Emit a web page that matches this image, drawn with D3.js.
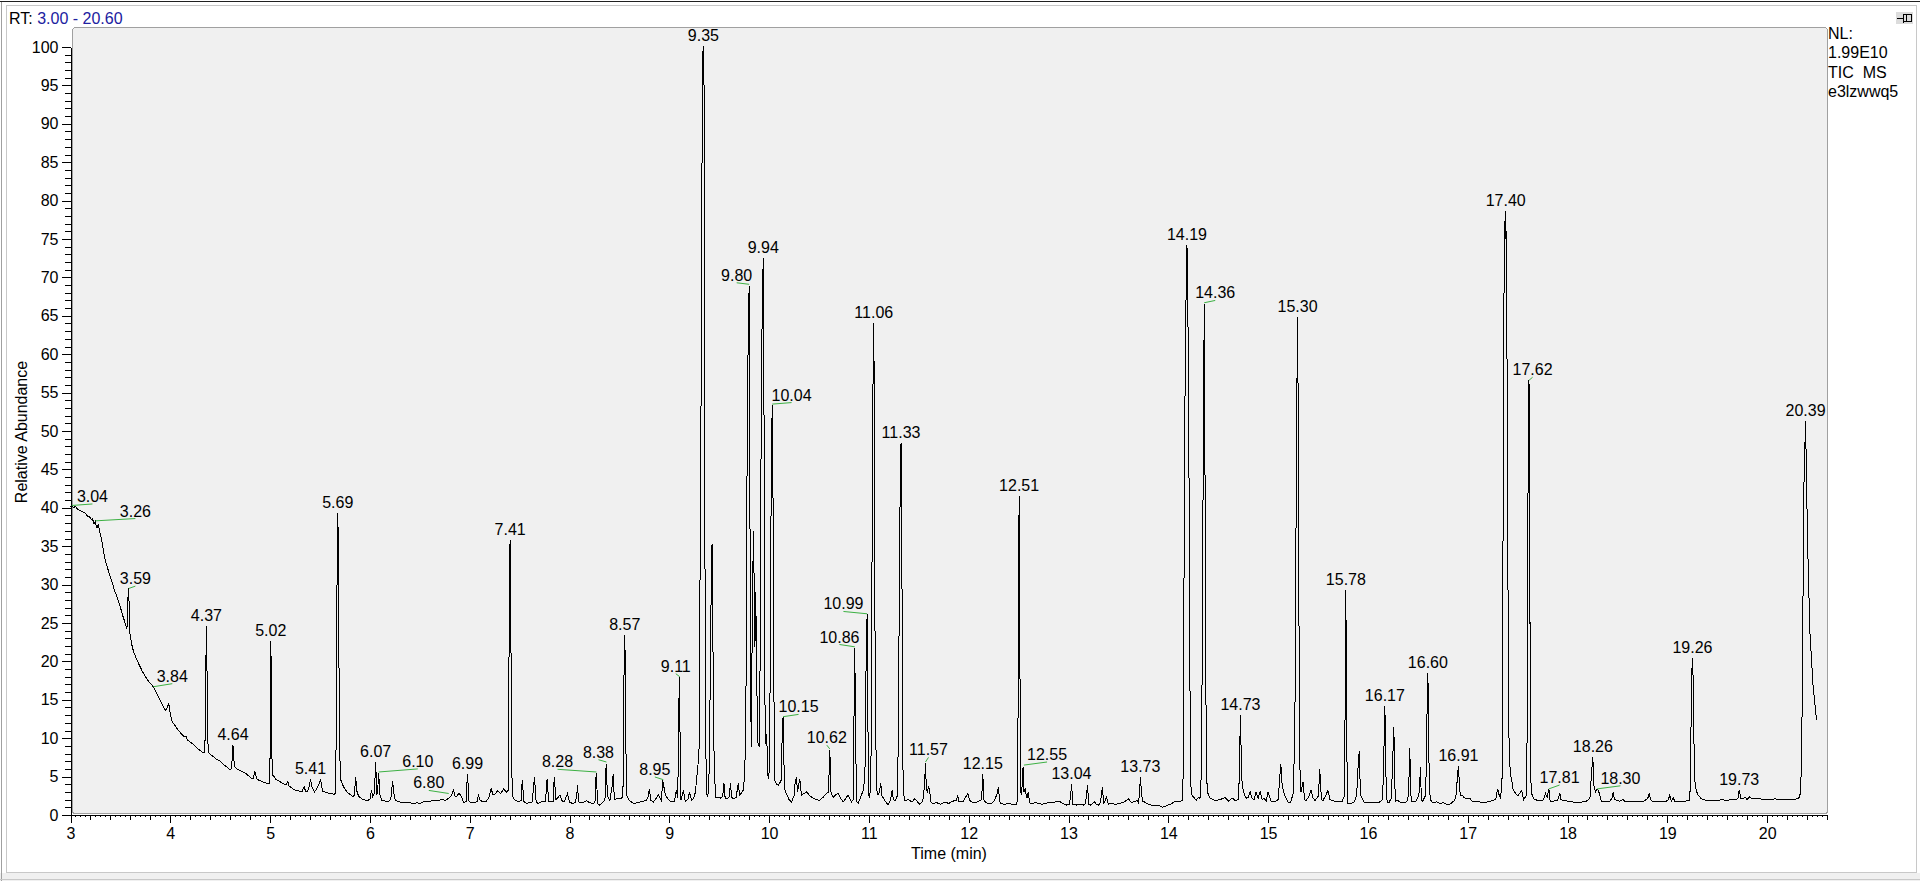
<!DOCTYPE html>
<html>
<head>
<meta charset="utf-8">
<title>RT: 3.00 - 20.60  TIC MS e3lzwwq5</title>
<script src="https://cdn.jsdelivr.net/npm/d3@7"></script>
<style>
    body { margin: 0; background: #ffffff; overflow: hidden; }
    svg text { font-family: "Liberation Sans", Arial, sans-serif; font-size: 16px; fill: #000000; }
</style>
</head>
<body>
<div id="chart"></div>
<script>

// Chart data
// --------------------------------------------------------------------------------------------

// Total ion current trace, [retention time (min), relative abundance (%)]
const trace3to7 = [
    [3.00,40.1],[3.013,40.3],[3.03,40.0],[3.05,40.2],[3.07,39.8],[3.10,39.6],[3.13,39.4],[3.15,39.3],
    [3.17,38.9],[3.19,38.8],[3.21,38.5],[3.22,38.6],[3.235,37.9],[3.25,38.3],[3.26,37.4],[3.27,37.5],
    [3.28,37.9],[3.29,36.9],[3.30,36.6],[3.32,35.2],[3.34,33.6],[3.365,32.4],[3.39,31.4],[3.415,30.4],
    [3.44,29.3],[3.465,28.4],[3.49,27.5],[3.52,26.1],[3.545,25.1],[3.565,24.2],[3.572,25.5],[3.578,29.5],
    [3.585,29.0],[3.59,24.5],[3.595,23.7],[3.62,21.8],[3.64,21.0],[3.665,20.2],[3.69,19.5],[3.72,18.7],
    [3.75,18.0],[3.79,17.3],[3.83,16.7],[3.86,15.9],[3.89,15.2],[3.92,14.4],[3.95,13.6],[3.965,13.9],
    [3.985,14.5],[4.00,13.2],[4.02,12.1],[4.05,11.6],[4.08,11.0],[4.11,10.6],[4.14,10.2],[4.16,10.2],
    [4.17,9.8],[4.20,9.5],[4.22,9.3],[4.26,8.8],[4.29,8.5],[4.32,8.2],[4.345,8.1],[4.352,12],
    [4.357,20],[4.362,24.6],[4.367,20],[4.372,12],[4.38,8.3],[4.39,8.0],[4.42,7.7],[4.46,7.3],
    [4.49,7.1],[4.53,6.6],[4.57,6.2],[4.60,5.9],[4.615,6.1],[4.622,8.0],[4.628,9.1],[4.634,8.0],
    [4.642,6.3],[4.67,6.0],[4.71,5.7],[4.76,5.4],[4.80,4.9],[4.83,4.7],[4.848,5.7],[4.865,4.7],
    [4.89,4.5],[4.93,4.3],[4.97,4.1],[4.995,4.1],[5.000,8],[5.004,18],[5.007,22.6],[5.012,18],
    [5.017,8],[5.025,5.2],[5.04,5.0],[5.06,4.6],[5.09,4.4],[5.13,4.1],[5.16,3.9],[5.178,4.4],
    [5.19,3.8],[5.23,3.4],[5.26,3.2],[5.30,3.1],[5.32,3.0],[5.34,3.7],[5.355,3.1],[5.375,3.0],
    [5.392,3.8],[5.405,4.7],[5.42,3.6],[5.445,3.0],[5.465,3.4],[5.49,4.0],[5.505,4.7],[5.525,3.1],
    [5.545,3.0],[5.57,2.9],[5.60,2.8],[5.64,2.7],[5.655,2.8],[5.662,10],[5.668,25],[5.674,37],
    [5.678,39.3],[5.684,35],[5.69,20],[5.697,8],[5.71,4.5],[5.725,4.0],[5.74,3.6],[5.77,3.0],
    [5.79,2.8],[5.83,2.4],[5.845,2.6],[5.852,4.0],[5.858,4.9],[5.864,4.0],[5.872,2.9],[5.89,2.4],
    [5.93,2.0],[5.97,1.9],[6.00,2.0],[6.015,3.2],[6.028,2.4],[6.045,2.8],[6.052,5.0],[6.058,6.9],
    [6.064,4.5],[6.070,2.8],[6.078,2.9],[6.083,4.5],[6.088,5.5],[6.094,4.0],[6.10,2.6],[6.12,1.9],
    [6.16,1.8],[6.19,1.8],[6.21,2.1],[6.22,3.5],[6.228,4.4],[6.236,3.4],[6.245,2.3],[6.26,1.9],
    [6.30,1.7],[6.35,1.6],[6.40,1.6],[6.44,1.5],[6.47,1.6],[6.50,1.5],[6.53,1.7],[6.56,1.7],
    [6.60,1.8],[6.64,1.9],[6.68,1.9],[6.72,2.0],[6.76,1.9],[6.79,2.2],[6.82,2.6],[6.838,3.4],
    [6.85,2.5],[6.87,2.4],[6.89,2.8],[6.91,2.6],[6.94,1.6],[6.965,1.8],[6.972,4.0],[6.978,5.4],
    [6.984,4.0],[6.99,1.9],[7.01,1.6],[7.05,1.6]
]

const trace7to11 = [
    [7.075,1.8],[7.088,2.7],[7.10,2.0],[7.13,1.7],[7.16,1.7],[7.19,2.2],[7.215,3.4],[7.235,2.6],
    [7.26,2.8],[7.28,3.2],[7.31,2.8],[7.34,3.4],[7.37,3.0],[7.385,3.2],[7.392,15],[7.398,32],
    [7.405,35.8],[7.41,32],[7.416,15],[7.425,3.5],[7.435,2.2],[7.46,1.9],[7.49,1.7],[7.515,1.9],
    [7.522,3.5],[7.527,4.6],[7.533,3.5],[7.54,1.8],[7.57,1.5],[7.60,1.6],[7.625,1.7],[7.642,3.8],
    [7.648,4.9],[7.655,3.8],[7.665,1.8],[7.68,1.5],[7.72,1.7],[7.76,1.8],[7.77,3.8],[7.775,4.7],
    [7.782,3.6],[7.79,1.8],[7.80,1.7],[7.835,1.8],[7.842,3.8],[7.848,4.9],[7.855,3.6],[7.862,2.0],
    [7.88,2.2],[7.905,2.6],[7.93,1.7],[7.95,1.8],[7.98,2.8],[8.00,1.7],[8.03,1.5],[8.06,1.6],
    [8.075,3.0],[8.08,3.9],[8.087,2.6],[8.095,1.7],[8.12,1.6],[8.15,1.7],[8.17,1.9],[8.20,1.6],
    [8.23,1.5],[8.255,1.6],[8.262,4.0],[8.268,5.5],[8.274,4.0],[8.28,1.5],[8.30,1.3],[8.33,1.6],
    [8.355,1.9],[8.362,5.0],[8.368,6.7],[8.374,4.5],[8.38,2.5],[8.405,1.9],[8.43,4.0],[8.437,5.3],
    [8.443,3.8],[8.45,2.0],[8.49,2.2],[8.52,2.2],[8.535,2.4],[8.54,8],[8.546,18],[8.554,23.4],
    [8.56,18],[8.566,8],[8.575,2.5],[8.60,1.9],[8.64,1.5],[8.68,1.6],[8.71,1.7],[8.74,1.8],
    [8.77,1.9],[8.79,2.4],[8.80,3.4],[8.815,1.9],[8.84,1.7],[8.87,2.2],[8.89,2.6],[8.92,1.9],
    [8.935,4.5],[8.96,2.6],[8.98,2.2],[9.01,1.8],[9.05,1.7],[9.07,3.2],[9.085,2.2],[9.093,12],
    [9.101,18.0],[9.108,10],[9.117,1.9],[9.14,3.2],[9.16,1.8],[9.19,2.1],[9.20,3.0],[9.225,1.9],
    [9.245,2.2],[9.262,3.0],[9.272,4.5],[9.285,6.0],[9.299,8.9],[9.305,25.8],[9.315,43],[9.322,69],
    [9.333,99.5],[9.338,98.2],[9.342,100.1],[9.347,99.0],[9.352,69],[9.356,43],[9.360,17.5],[9.37,4.5],
    [9.379,2.3],[9.39,2.8],[9.40,6],[9.41,17.5],[9.42,30],[9.428,35.3],[9.433,30],[9.44,17.5],
    [9.45,6],[9.465,2.3],[9.48,2.3],[9.51,2.2],[9.535,2.4],[9.548,4.1],[9.56,2.1],[9.58,2.1],
    [9.60,2.4],[9.613,4.1],[9.625,2.3],[9.64,2.1],[9.67,2.3],[9.69,4.1],[9.705,2.6],[9.72,2.8],
    [9.739,3.2],[9.755,5],[9.765,11],[9.772,22],[9.778,43],[9.79,62],[9.80,68.9],[9.805,60],
    [9.807,43],[9.815,15],[9.823,8.9],[9.828,20],[9.835,31],[9.846,37.0],[9.852,25],[9.858,21.9],
    [9.866,29.0],[9.874,20],[9.885,9.5],[9.90,8.9],[9.91,20],[9.917,43],[9.93,65],[9.941,72.5],
    [9.946,65],[9.951,43],[9.958,15],[9.967,9.3],[9.975,10.5],[9.99,4.7],[10.005,6],[10.015,30],
    [10.022,45],[10.031,53.4],[10.038,45],[10.045,20],[10.057,4.5],[10.075,4.0],[10.095,3.9],[10.12,4.5],
    [10.128,9],[10.140,12.8],[10.148,7],[10.16,3.0],[10.173,2.8],[10.20,2.0],[10.224,1.7],[10.25,2.5],
    [10.262,4.4],[10.274,4.9],[10.285,3.0],[10.297,4.0],[10.307,4.7],[10.324,2.6],[10.35,2.8],[10.374,3.0],
    [10.41,2.5],[10.441,2.2],[10.475,2.0],[10.508,1.9],[10.54,2.3],[10.575,2.8],[10.595,3.0],[10.602,6],
    [10.608,8.5],[10.614,6],[10.62,3.0],[10.641,2.3],[10.665,2.6],[10.691,2.8],[10.715,2.2],[10.742,1.7],
    [10.77,2.2],[10.792,2.6],[10.825,1.7],[10.843,2.0],[10.85,12],[10.858,21.7],[10.866,12],[10.875,1.8],
    [10.892,1.5],[10.92,2.4],[10.942,3.2],[10.96,5],[10.972,20],[10.982,26.2],[10.99,12],[10.998,2.5],
    [11.009,2.3],[11.02,5],[11.03,30],[11.04,55],[11.049,64.1],[11.055,50],[11.062,20],[11.075,3.5],
    [11.092,2.6],[11.105,3.0],[11.119,4.1],[11.13,2.5],[11.159,1.9],[11.193,1.3],[11.215,1.9],[11.233,3.2],
    [11.245,2.0],[11.265,1.9],[11.285,2.5]
]

const trace11to16 = [
    [11.295,10],[11.305,30],[11.315,45],[11.322,48.5],[11.328,40],[11.335,20],[11.343,3],[11.36,1.9],
    [11.40,2.0],[11.43,1.7],[11.46,2.1],[11.51,1.4],[11.54,1.8],[11.558,4],[11.567,6.8],[11.575,3.5],
    [11.585,3.0],[11.597,3.6],[11.607,3.4],[11.62,1.7],[11.635,1.5],[11.68,1.6],[11.72,1.4],[11.76,1.7],
    [11.80,1.5],[11.84,1.8],[11.876,1.9],[11.89,2.6],[11.90,1.8],[11.94,1.7],[11.99,2.8],[12.01,1.9],
    [12.04,1.6],[12.09,1.7],[12.13,2.0],[12.136,4.0],[12.141,5.4],[12.146,4.0],[12.152,2.0],[12.17,1.6],
    [12.20,1.5],[12.23,1.5],[12.26,1.9],[12.29,3.0],[12.297,3.7],[12.305,2.6],[12.315,1.5],[12.36,1.4],
    [12.40,1.5],[12.44,1.4],[12.48,1.4],[12.49,2.0],[12.497,20],[12.505,41.6],[12.513,20],[12.52,3],
    [12.53,2.6],[12.54,5.0],[12.545,6.3],[12.553,3],[12.565,3.4],[12.583,2.2],[12.598,3.0],[12.61,1.6],
    [12.63,1.5],[12.67,1.6],[12.70,1.5],[12.73,1.4],[12.77,1.5],[12.80,1.6],[12.83,1.6],[12.87,1.7],
    [12.91,1.8],[12.94,1.5],[12.98,1.3],[13.01,1.4],[13.024,3.0],[13.03,4.0],[13.037,2.8],[13.045,1.4],
    [13.08,1.3],[13.12,1.4],[13.15,1.3],[13.17,1.5],[13.184,3.0],[13.19,3.9],[13.197,2.6],[13.205,1.4],
    [13.22,1.3],[13.24,1.5],[13.26,1.7],[13.28,1.4],[13.30,1.3],[13.32,1.6],[13.334,3.0],[13.34,3.7],
    [13.347,2.4],[13.355,1.5],[13.38,2.3],[13.40,1.4],[13.43,1.5],[13.47,1.4],[13.51,1.5],[13.54,1.6],
    [13.56,1.7],[13.60,2.1],[13.63,1.6],[13.65,1.7],[13.69,1.9],[13.70,1.6],[13.712,2.8],[13.72,4.9],
    [13.728,3.5],[13.74,1.8],[13.76,1.7],[13.80,1.4],[13.85,1.2],[13.90,1.3],[13.94,1.0],[13.98,1.2],
    [14.02,1.4],[14.06,1.7],[14.10,1.7],[14.14,1.9],[14.148,5],[14.155,25],[14.165,50],[14.172,63],
    [14.187,74.2],[14.198,63],[14.207,45],[14.215,20],[14.225,4],[14.235,2.6],[14.25,2.4],[14.28,1.9],
    [14.30,2.3],[14.315,2.2],[14.325,2.5],[14.335,10],[14.345,35],[14.352,50],[14.36,66.6],[14.366,50],
    [14.372,30],[14.38,8],[14.39,3.0],[14.42,2.2],[14.47,1.9],[14.52,2.0],[14.57,2.3],[14.60,1.8],
    [14.64,2.2],[14.67,1.9],[14.70,2.0],[14.712,5],[14.718,10],[14.723,13.0],[14.73,8],[14.738,4.5],
    [14.75,3.2],[14.765,2.6],[14.78,2.2],[14.80,2.3],[14.82,3.0],[14.84,2.2],[14.86,2.0],[14.88,3.0],
    [14.90,2.2],[14.92,3.0],[14.94,2.0],[14.96,2.2],[14.98,1.8],[15.00,3.0],[15.03,1.8],[15.07,1.7],
    [15.10,2.0],[15.115,4.5],[15.127,6.7],[15.14,4.0],[15.155,3.0],[15.17,2.5],[15.20,1.7],[15.225,1.6],
    [15.255,3],[15.27,15],[15.285,50],[15.295,64.9],[15.303,50],[15.312,15],[15.322,3.0],[15.33,3.0],
    [15.35,4.3],[15.365,2.0],[15.38,1.9],[15.405,2.3],[15.43,3.2],[15.45,2.2],[15.47,1.9],[15.505,2.5],
    [15.513,5],[15.518,6.0],[15.525,4],[15.535,2.0],[15.55,1.9],[15.575,2.5],[15.60,3.2],[15.62,2.0],
    [15.64,1.9],[15.69,1.7],[15.74,1.7],[15.765,2.5],[15.772,15],[15.779,29.3],[15.786,12],[15.795,2.0],
    [15.80,1.5],[15.83,1.5],[15.86,1.7],[15.88,2.2],[15.895,4],[15.905,7.5],[15.915,8.3],[15.922,4],
    [15.93,2.5],[15.96,1.7]
]

const trace16to21 = [
    [16.00,1.6],[16.04,1.7],[16.08,1.6],[16.12,1.7],[16.145,2.0],[16.155,5],[16.163,10],[16.17,14.2],
    [16.177,8],[16.185,2.5],[16.195,1.7],[16.21,1.6],[16.235,2.2],[16.245,6],[16.26,11.4],[16.268,4],
    [16.28,1.8],[16.30,1.9],[16.33,1.6],[16.39,1.7],[16.405,2.5],[16.412,5],[16.42,8.7],[16.427,3.5],
    [16.435,1.8],[16.455,1.7],[16.48,1.8],[16.51,2.5],[16.52,4.5],[16.527,6.2],[16.535,2.0],[16.55,1.8],
    [16.575,2.5],[16.585,6],[16.593,14],[16.601,18.5],[16.607,12],[16.615,4],[16.625,2.0],[16.65,1.6],
    [16.69,1.7],[16.72,1.5],[16.76,1.6],[16.80,1.3],[16.83,1.5],[16.87,1.9],[16.885,2.8],[16.897,5.0],
    [16.907,6.4],[16.915,4.5],[16.925,2.6],[16.945,2.6],[16.96,2.3],[16.99,2.1],[17.02,2.2],[17.05,1.7],
    [17.10,1.8],[17.15,1.6],[17.20,1.7],[17.25,1.9],[17.28,2.0],[17.30,3.4],[17.315,2.6],[17.33,2.2],
    [17.345,5],[17.352,30],[17.358,50],[17.365,72],[17.372,77.4],[17.376,75],[17.381,78.6],[17.388,72],
    [17.398,50],[17.405,25],[17.415,8],[17.43,5],[17.44,4.9],[17.45,3.5],[17.47,3.0],[17.50,2.5],
    [17.52,2.8],[17.54,3.2],[17.56,2.0],[17.585,2.5],[17.595,10],[17.603,40],[17.614,56.6],[17.62,40],
    [17.627,15],[17.635,3],[17.66,2.1],[17.70,1.9],[17.74,1.9],[17.76,2.0],[17.78,2.8],[17.795,2.3],
    [17.813,3.4],[17.825,1.9],[17.84,1.7],[17.86,1.8],[17.90,1.9],[17.923,2.8],[17.935,2.0],[17.96,1.9],
    [18.00,1.8],[18.05,1.7],[18.10,1.6],[18.15,1.7],[18.19,1.8],[18.225,2.2],[18.238,5],[18.254,7.6],
    [18.262,4],[18.28,3.0],[18.297,3.4],[18.31,3.2],[18.34,1.7],[18.38,1.8],[18.42,1.7],[18.445,2.2],
    [18.457,3.0],[18.47,2.1],[18.49,1.9],[18.52,1.8],[18.557,2.0],[18.58,1.7],[18.624,1.7],[18.68,1.7],
    [18.73,1.8],[18.758,1.7],[18.805,2.2],[18.818,2.8],[18.835,2.0],[18.858,1.7],[18.90,1.7],[18.94,1.8],
    [18.98,1.7],[19.01,2.0],[19.025,2.6],[19.04,1.8],[19.06,2.2],[19.08,1.7],[19.126,1.7],[19.18,1.8],
    [19.226,1.9],[19.236,10],[19.244,18],[19.252,20.5],[19.258,18],[19.266,10],[19.278,4],[19.295,3.0],
    [19.309,2.6],[19.34,2.1],[19.39,1.9],[19.45,1.9],[19.50,1.9],[19.55,2.0],[19.593,1.9],[19.64,2.0],
    [19.69,2.0],[19.71,2.2],[19.72,3.3],[19.735,2.2],[19.753,2.1],[19.78,2.3],[19.80,2.0],[19.825,2.4],
    [19.843,2.2],[19.88,2.1],[19.927,2.1],[19.97,2.0],[20.03,2.0],[20.08,2.1],[20.13,2.0],[20.18,2.0],
    [20.23,2.0],[20.28,2.0],[20.328,2.3],[20.34,5],[20.35,13],[20.36,29],[20.37,43.6],[20.385,51.3],
    [20.395,43.6],[20.405,35.8],[20.428,24],[20.461,16.7],[20.495,12.4]
]

// Peak labels that sit right above their apex: [text, apex rt, apex abundance]
const peakLabels = [
    ["4.37",4.362,24.6],["4.64",4.628,9.1],["5.02",5.007,22.6],["5.41",5.405,4.7],["5.69",5.678,39.3],
    ["6.07",6.058,6.9],["6.99",6.978,5.4],["7.41",7.405,35.8],["8.57",8.554,23.4],["9.35",9.342,100.1],
    ["9.94",9.941,72.5],["11.06",11.049,64.1],["11.33",11.322,48.5],["12.15",12.141,5.4],["12.51",12.505,41.6],
    ["13.04",13.03,4.0],["13.73",13.72,4.9],["14.19",14.187,74.2],["14.73",14.723,13.0],["15.30",15.295,64.9],
    ["15.78",15.779,29.3],["16.17",16.17,14.2],["16.60",16.601,18.5],["16.91",16.907,6.4],["17.40",17.381,78.6],
    ["18.26",18.254,7.6],["19.26",19.252,20.5],["19.73",19.72,3.3],["20.39",20.385,51.3]
]

// Peak labels moved aside with a green leader: [text, peak rt, peak abundance, label rt, label abundance]
const shiftedLabels = [
    ["3.04",3.013,40.3,3.22,40.5],["3.26",3.25,38.3,3.65,38.6],["3.59",3.585,29.5,3.65,29.8],
    ["3.84",3.83,16.7,4.02,17.1],["6.10",6.088,5.6,6.48,6.0],["6.80",6.79,2.8,6.59,3.2],
    ["8.28",8.27,5.6,7.88,5.95],["8.38",8.37,6.9,8.29,7.2],["8.95",8.94,4.6,8.855,4.95],
    ["9.11",9.105,18.0,9.065,18.4],["9.80",9.80,69.1,9.675,69.3],["10.04",10.031,53.5,10.225,53.7],
    ["10.15",10.14,12.8,10.295,13.1],["10.62",10.608,8.6,10.578,9.1],["10.86",10.858,21.9,10.705,22.2],
    ["10.99",10.982,26.2,10.745,26.5],["11.57",11.567,6.9,11.597,7.5],["12.55",12.553,6.5,12.785,6.9],
    ["14.36",14.36,66.7,14.47,67.0],["17.62",17.614,56.6,17.65,57.0],["17.81",17.813,3.4,17.92,3.9],
    ["18.30",18.297,3.4,18.53,3.8]
]

// Axis ticks and header texts
const xTicks = [3,4,5,6,7,8,9,10,11,12,13,14,15,16,17,18,19,20]
const yTicks = [0,5,10,15,20,25,30,35,40,45,50,55,60,65,70,75,80,85,90,95,100]
const rtRange = "3.00 - 20.60"
const infoLines = ["NL:", "1.99E10", "TIC\u00a0 MS", "e3lzwwq5"]


function drawChart(container) {

    const width = 1920
    const height = 881

    // Scales: time in minutes across, relative abundance up
    let x = d3.scaleLinear().domain([3, 20.6]).range([70.5, 1827])
    let y = d3.scaleLinear().domain([0, 100]).range([815, 47])

    let svg = d3.select(container).append("svg")
        .attr("width", width)
        .attr("height", height)

    // Window frame
    // -------------------------------------------------------------------------
    svg.append("rect")
        .attr("x", 0).attr("y", 0).attr("width", width).attr("height", height)
        .style("fill", "#ffffff")

    svg.append("rect")
        .attr("x", 0).attr("y", 873).attr("width", width).attr("height", 8)
        .style("fill", "#f0f0f0")

    svg.append("rect")
        .attr("x", 6.5).attr("y", 5.5).attr("width", 1910).attr("height", 867)
        .style("fill", "#ffffff")
        .style("stroke", "#c8c8c8")
        .style("shape-rendering", "crispEdges")

    svg.append("line")
        .attr("x1", 0).attr("x2", width).attr("y1", 1.5).attr("y2", 1.5)
        .style("stroke", "#202020")
        .style("shape-rendering", "crispEdges")

    svg.append("line")
        .attr("x1", 1.5).attr("x2", 1.5).attr("y1", 2).attr("y2", height)
        .style("stroke", "#a0a0a0")
        .style("shape-rendering", "crispEdges")

    svg.append("line")
        .attr("x1", 0).attr("x2", width).attr("y1", 879.5).attr("y2", 879.5)
        .style("stroke", "#c8c8c8")
        .style("shape-rendering", "crispEdges")

    // Pin button at the top right
    svg.append("rect")
        .attr("x", 1895.5).attr("y", 11.5).attr("width", 18).attr("height", 13)
        .style("fill", "#dcdcdc")
        .style("stroke", "#ffffff")
    svg.append("path")
        .attr("d", "M1897,18.5 H1903.5 M1903.5,13.5 V22.5 M1903.5,14.5 H1911.5 V21.5 H1903.5 M1906.5,14.5 V21.5")
        .style("fill", "none")
        .style("stroke", "#000000")
        .style("shape-rendering", "crispEdges")

    // Header texts
    let rt = svg.append("text").attr("x", 9).attr("y", 24)
    rt.append("tspan").text("RT: ")
    rt.append("tspan").text(rtRange).style("fill", "#2020a0")

    svg.append("g")
        .selectAll("text")
        .data(infoLines)
        .join("text")
            .attr("x", 1828)
            .attr("y", (d, i) => 39 + i * 19.3)
            .text(d => d)

    // Plot area
    // -------------------------------------------------------------------------
    svg.append("rect")
        .attr("x", 72.5).attr("y", 27.5).attr("width", 1755).attr("height", 786)
        .attr("rx", 3)
        .style("fill", "#f0f0f0")
        .style("stroke", "#a0a0a0")
        .style("shape-rendering", "crispEdges")

    // Axes
    // -------------------------------------------------------------------------
    let xMinor = d3.range(3, 20.6001, 0.05).filter(d => Math.abs(d * 5 - Math.round(d * 5)) > 1e-6)
    let xMid = d3.range(3, 20.6001, 0.2).filter(d => Math.abs(d - Math.round(d)) > 1e-6)
    let yMinor = d3.range(0, 101, 1).filter(d => d % 5 != 0)

    let gx = svg.append("g")
        .attr("transform", "translate(0," + y(0) + ")")
        .style("shape-rendering", "crispEdges")

    gx.append("g").call(d3.axisBottom(x).tickValues(xMinor).tickSize(2).tickSizeOuter(0).tickFormat(""))
    gx.append("g").call(d3.axisBottom(x).tickValues(xMid).tickSize(5).tickSizeOuter(0).tickFormat(""))
    gx.append("g").call(d3.axisBottom(x).tickValues(xTicks).tickSize(8).tickSizeOuter(0).tickPadding(5).tickFormat(d3.format("d")))

    let gy = svg.append("g")
        .attr("transform", "translate(" + x(3) + ",0)")
        .style("shape-rendering", "crispEdges")

    gy.append("g").call(d3.axisLeft(y).tickValues(yMinor).tickSize(6).tickSizeOuter(0).tickFormat(""))
    gy.append("g").call(d3.axisLeft(y).tickValues(yTicks).tickSize(9).tickSizeOuter(0).tickPadding(3).tickFormat(d3.format("d")))

    svg.selectAll(".tick text").style("fill", "#000000")

    // Axis titles
    svg.append("text")
        .attr("x", 949)
        .attr("y", 859)
        .attr("text-anchor", "middle")
        .text("Time (min)")

    svg.append("text")
        .attr("transform", "translate(27,432) rotate(-90)")
        .attr("text-anchor", "middle")
        .text("Relative Abundance")

    // Chromatogram trace
    // -------------------------------------------------------------------------
    let trace = trace3to7.concat(trace7to11, trace11to16, trace16to21)

    let tracePoints = d3.line()
        .x(d => x(d[0]))
        .y(d => y(d[1]))

    svg.append("path")
        .datum(trace)
        .attr("d", tracePoints)
        .style("fill", "none")
        .style("stroke", "#000000")
        .style("stroke-width", 1)
        .style("shape-rendering", "crispEdges")

    // Peak labels
    // -------------------------------------------------------------------------
    let gLeaders = svg.append("g").attr("id", "leaders")
    let gLabels = svg.append("g").attr("id", "labels")

    gLabels.selectAll("text.peak")
        .data(peakLabels)
        .join("text")
            .attr("class", "peak")
            .attr("x", d => x(d[1]))
            .attr("y", d => y(d[2]) - 5)
            .attr("text-anchor", "middle")
            .text(d => d[0])

    gLeaders.selectAll("line")
        .data(shiftedLabels)
        .join("line")
            .attr("x1", d => x(d[1]))
            .attr("y1", d => y(d[2]))
            .attr("x2", d => x(d[3]))
            .attr("y2", d => y(d[4]))
            .style("stroke", "#3cb043")
            .style("stroke-width", 1)

    gLabels.selectAll("text.shifted")
        .data(shiftedLabels)
        .join("text")
            .attr("class", "shifted")
            .attr("x", d => x(d[3]))
            .attr("y", d => y(d[4]) - 2)
            .attr("text-anchor", "middle")
            .text(d => d[0])
}

drawChart(document.getElementById("chart"))

</script>
</body>
</html>
